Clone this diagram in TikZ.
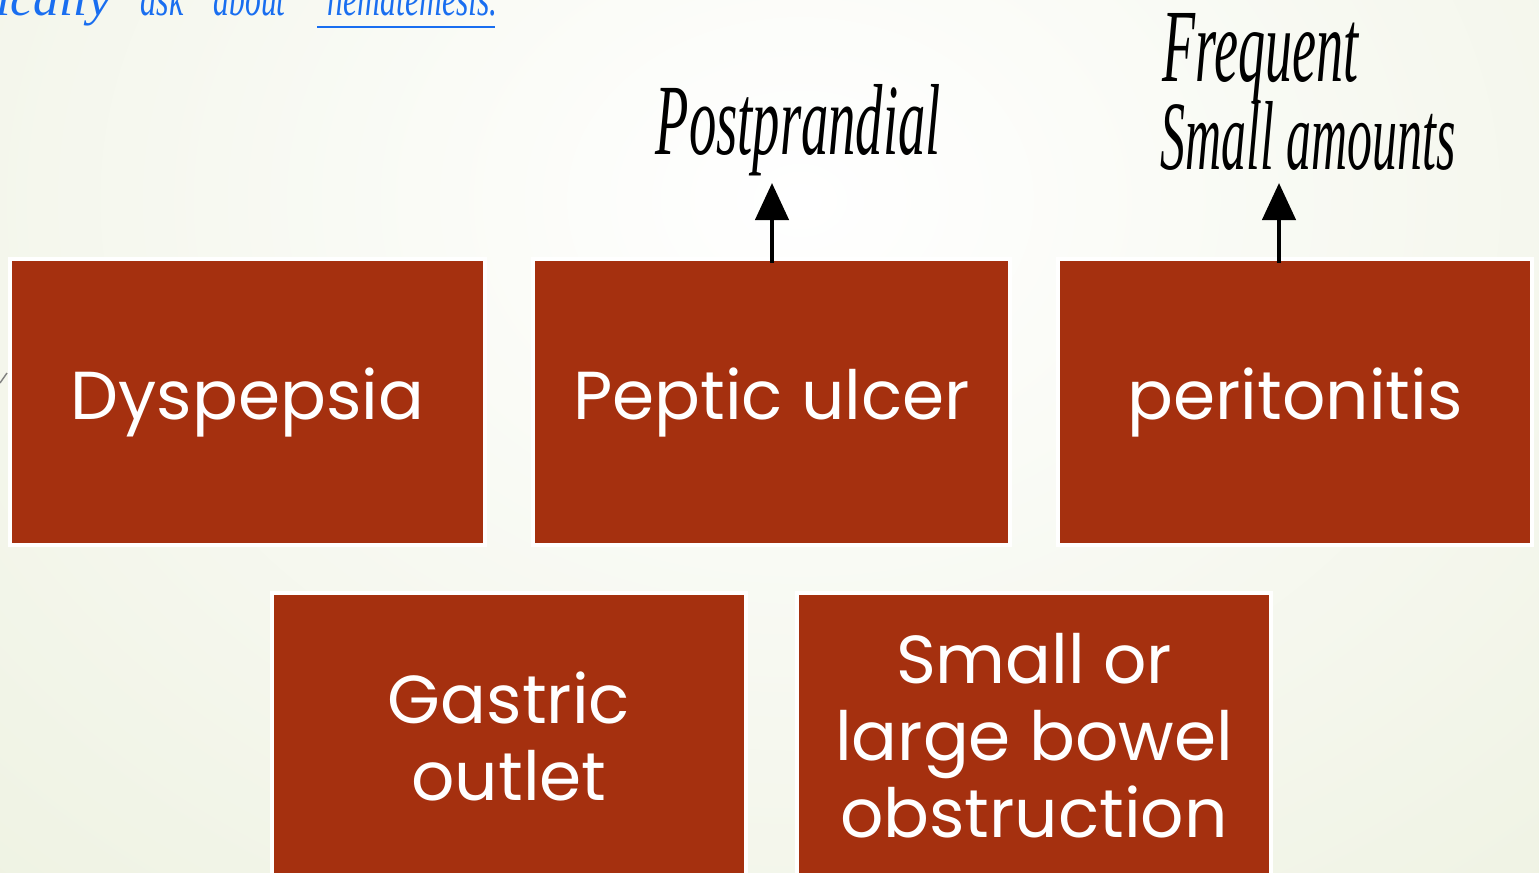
\documentclass[tikz,border=0pt]{standalone}
\usepackage{fontspec}
\setmainfont{Poppins}
\newfontfamily\hand{Liberation Serif}
\usetikzlibrary{arrows.meta}
\definecolor{rust}{RGB}{165,48,15}
\definecolor{bgg}{RGB}{236,240,222}
\definecolor{inkblue}{RGB}{25,110,240}
\tikzset{
  box/.style={fill=rust, draw=white, line width=1.2pt, text=white, align=center,
    font=\fontsize{19.3}{21.9}\selectfont, inner sep=0pt, minimum height=2.86cm},
  upar/.style={-{Triangle[width=0.33cm,length=0.37cm]}, line width=0.045cm, black},
  note/.style={anchor=base west, inner sep=0pt, text=black},
  bnote/.style={anchor=base west, inner sep=0pt, text=inkblue},
}
\begin{document}
\begin{tikzpicture}[x=0.01cm,y=-0.01cm]
\useasboundingbox (0,0) rectangle (1539,873);
\clip (0,0) rectangle (1539,873);
\shade[inner color=white, outer color=bgg] (-600,-900) rectangle (2200,1300);
\draw[gray, line width=0.4pt] (0,383) -- (7,373);

% boxes
\node[box, minimum width=4.75cm] (dys) at (247.5,402) {Dyspepsia};
\node[box, minimum width=4.77cm] (pu) at (771.5,402) {Peptic ulcer};
\node[box, minimum width=4.74cm] (per) at (1295,402) {peritonitis};
\node[box, minimum width=4.74cm] (go) at (509,736) {Gastric\\outlet};
\node[box, minimum width=4.74cm] (sbo) at (1034,736) {Small or\\large bowel\\obstruction};

% handwritten notes
\node[note] (pp) at (655,155) {\resizebox{2.85cm}{0.70cm}{\hand\itshape Postprandial}};
\node[note] (fq) at (1162,82) {\resizebox{1.96cm}{0.68cm}{\hand\itshape Frequent}};
\node[note] (sa) at (1160,170) {\resizebox{2.95cm}{0.68cm}{\hand\itshape Small amounts}};

\coordinate (tipA) at (772,183);
\coordinate (tipB) at (1279,183);
\draw[upar] ([yshift=-0.06cm]pu.north -| tipA) -- (tipA);
\draw[upar] ([yshift=-0.06cm]per.north -| tipB) -- (tipB);

% blue handwriting (cut at top)
\node[bnote] (w1) at (-4,16) {\resizebox{1.14cm}{0.34cm}{\hand\itshape ically}};
\node[bnote] (w2) at (140,16) {\resizebox{0.43cm}{0.34cm}{\hand\itshape ask}};
\node[bnote] (w3) at (213,16) {\resizebox{0.72cm}{0.34cm}{\hand\itshape about}};
\node[bnote] (w4) at (327,16) {\resizebox{1.70cm}{0.34cm}{\hand\itshape hematemesis.}};
\coordinate (u1) at (317,27);
\coordinate (u2) at (495,27);
\draw[inkblue, line width=0.025cm] (u1) -- (u2);
\end{tikzpicture}
\end{document}
